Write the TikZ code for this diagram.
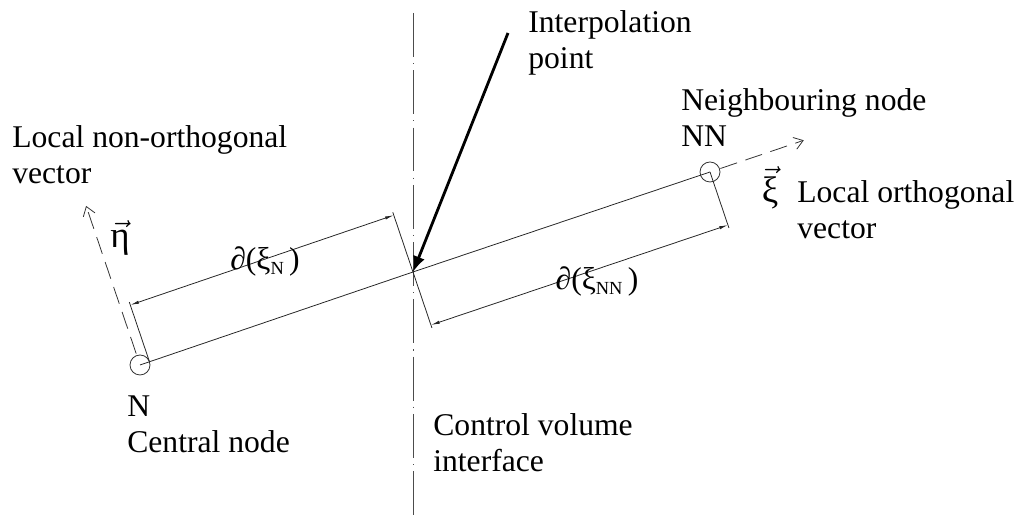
\documentclass[tikz,border=0pt]{standalone}
\usepackage{amsmath}
\usepackage{fontspec}
\setmainfont{Liberation Serif}
\usetikzlibrary{arrows.meta,calc}
\begin{document}
\begin{tikzpicture}[x=0.02cm,y=-0.02cm,
  lbl/.style={font=\fontsize{18}{21}\selectfont, inner sep=0pt, align=left, anchor=base west},
  sym/.style={font=\fontsize{21}{24}\selectfont, inner sep=0pt},
  dimlbl/.style={font=\fontsize{18}{21}\selectfont, inner sep=0pt},
  nodecirc/.style={draw, circle, minimum size=0.4cm, inner sep=0pt, line width=0.45pt, black!80},
  geomline/.style={line width=0.45pt, black!85},
  dimline/.style={line width=0.45pt, black!85, {Latex[length=5pt,width=1.8pt]}-{Latex[length=5pt,width=1.8pt]}},
  axisline/.style={line width=0.45pt, black!80, dash pattern=on 10pt off 5pt, -{Straight Barb[length=5pt,width=7pt]}},
  centreline/.style={line width=0.45pt, black!70, dash pattern=on 25pt off 3.5pt on 0.6pt off 3.5pt},
  interp/.style={line width=1.6pt, -{Latex[length=9pt,width=7pt]}}
]
\useasboundingbox (0,0) rectangle (1022,519);

% control volume interface (centre line)
\coordinate (CLtop) at (413,13);
\coordinate (CLbot) at (413,519);
\draw[centreline] (CLtop) -- (CLbot);

% nodes and interpolation point
\node[nodecirc] (N) at (140,365) {};
\node[nodecirc] (NN) at (710,172) {};
\coordinate (P) at (413,272);

% line joining the nodes
\draw[geomline] (N.center) -- (P) -- (NN.center);

% extension lines
\coordinate (Nb) at (149.5,361.8);
\coordinate (Nt) at (129.3,302.1);
\coordinate (Pt) at (392.8,212.3);
\coordinate (Pb) at (431.9,327.9);
\coordinate (NNb) at (728.9,227.9);
\draw[geomline] (Nb) -- (Nt);
\draw[geomline] (Pt) -- (Pb);
\draw[geomline] (NN.center) -- (NNb);

% dimension lines
\coordinate (dNa) at (130.3,305.0);
\coordinate (dNb) at (393.8,215.2);
\coordinate (dNNa) at (431.0,325.0);
\coordinate (dNNb) at (728.0,225.0);
\draw[dimline] (dNa) -- (dNb);
\draw[dimline] (dNNa) -- (dNNb);
\node[dimlbl] (lN) at (265,261) {∂(ξ\raisebox{-3pt}{\fontsize{10.5}{10.5}\selectfont N}\,)};
\node[dimlbl] (lNN) at (597,281) {∂(ξ\raisebox{-3pt}{\fontsize{10.5}{10.5}\selectfont NN}\,)};

% local vectors
\coordinate (etaS) at (136.2,353.6);
\coordinate (etaE) at (86.1,205.9);
\draw[axisline] (etaS) -- (etaE);
\coordinate (xiS) at (720.4,168.5);
\coordinate (xiE) at (803.8,140.3);
\draw[axisline] (xiS) -- (xiE);
\node[sym] (eta) at (120,238) {$\vec{\text{η}}$};
\node[sym] (xi) at (770,188) {$\vec{\text{ξ}}$};

% interpolation arrow
\coordinate (IPtail) at (508,33);
\draw[interp] (IPtail) -- (P);

% labels (anchor = baseline of the last line)
\node[lbl] (tInterp) at (528,69) {Interpolation\\point};
\node[lbl] (tNN) at (681,147) {Neighbouring node\\NN};
\node[lbl] (tOrth) at (797,239) {Local orthogonal\\vector};
\node[lbl] (tNonOrth) at (12,184) {Local non-orthogonal\\vector};
\node[lbl] (tN) at (127,453) {N\\Central node};
\node[lbl] (tCV) at (433,472) {Control volume\\interface};
\end{tikzpicture}
\end{document}
